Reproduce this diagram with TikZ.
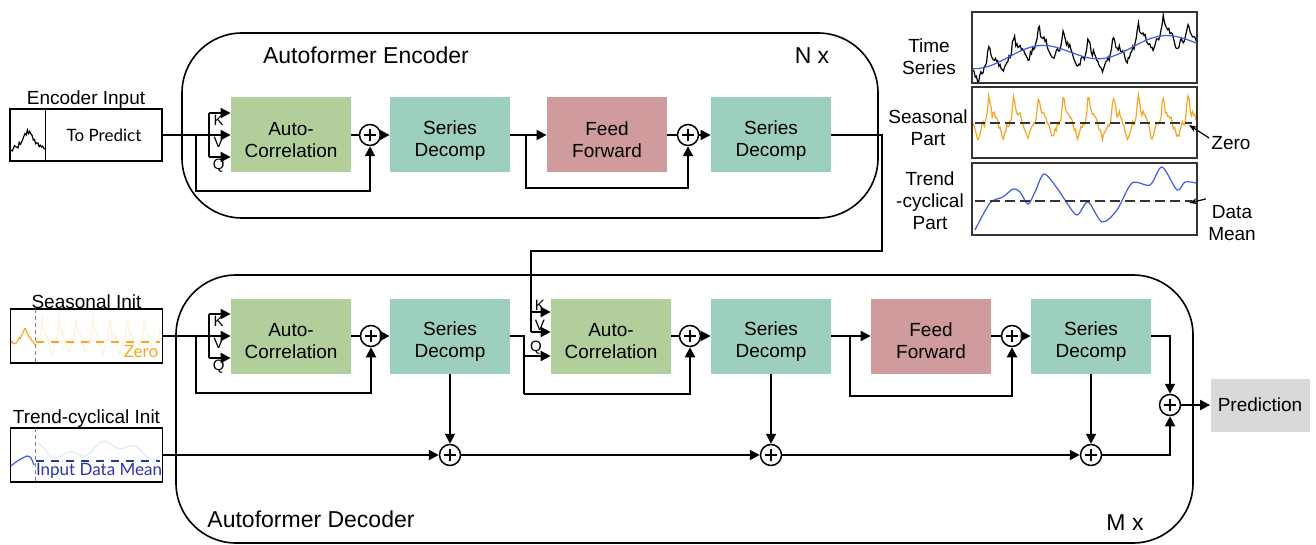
\documentclass[tikz,border=0pt]{standalone}
\usepackage{fontspec}
\setmainfont{Liberation Sans}
\newfontfamily\plotfont{Lato}
\usetikzlibrary{arrows.meta,positioning,calc}

\definecolor{acgreen}{HTML}{B2CF9B}
\definecolor{sdteal}{HTML}{9CCFC0}
\definecolor{ffred}{HTML}{D09B9D}
\definecolor{predgray}{HTML}{D9D9D9}
\definecolor{seasorange}{HTML}{F6A623}
\definecolor{trendblue}{HTML}{3D5CE6}
\definecolor{meanblue}{HTML}{2A35A8}

\tikzset{
  block/.style={minimum width=60pt, minimum height=37.5pt, inner sep=0pt, align=center, font=\fontsize{9.5}{11}\selectfont,
    execute at begin node={\rule{0pt}{23pt}}},
  sumnode/.style={circle, draw, line width=0.75pt, minimum size=10.5pt, inner sep=0pt, fill=white,
    path picture={\draw[line width=0.6pt] ([xshift=-3.2pt]path picture bounding box.center) -- ([xshift=3.2pt]path picture bounding box.center)
      ([yshift=-3.2pt]path picture bounding box.center) -- ([yshift=3.2pt]path picture bounding box.center);}},
  wire/.style={line width=1pt},
  arr/.style={wire, -{Triangle[length=5pt, width=5pt]}},
  outerframe/.style={line width=0.8pt, rounded corners=30pt},
  lbl/.style={font=\fontsize{9.5}{11}\selectfont, align=center, inner sep=1pt},
  kvq/.style={font=\fontsize{7.5}{8}\selectfont, inner sep=0.5pt},
  boxtitle/.style={font=\fontsize{11.5}{13}\selectfont},
  panel/.style={draw=black!80, line width=0.8pt},
  initbox/.style={draw, line width=0.8pt, minimum width=76pt, minimum height=27pt, inner sep=0pt},
  meanline/.style={line width=0.7pt, dash pattern=on 5pt off 2.5pt},
  cut/.style={gray, line width=0.5pt, dash pattern=on 2pt off 1.5pt},
  declare function={
    gs(\t)=exp(-min(\t*\t,30));
    sphase(\t,\p)=mod(\t+10*\p,\p)/\p;
    spk(\f)=1.1*gs((\f-0.24)/0.09)+0.45*gs((\f-0.45)/0.12)-0.55*gs((\f-0.8)/0.12)-0.1;
    trd(\x)=60-18*(\x-972)/225-9*cos(360*((\x-972)/225-0.3)/0.55);
  },
}

\begin{document}
\begin{tikzpicture}[x=0.5pt, y=-0.5pt]
\useasboundingbox (0,0) rectangle (1316,545);
\pgfmathsetseed{12}

% frames of the two stacks
\draw[outerframe] (182,33) rectangle (878,218);
\draw[outerframe] (176,275) rectangle (1193,543);
\node[boxtitle] (enctitle) at (366,55) {Autoformer Encoder};
\node[boxtitle] (encrep) at (812,56) {N x};
\node[boxtitle] (dectitle) at (311,519) {Autoformer Decoder};
\node[boxtitle] (decrep) at (1125,523) {M x};

% encoder
\node[block, fill=acgreen] (encac) at (291,135) {Auto-\\Correlation};
\node[sumnode] (encp1) at (370,135) {};
\node[block, fill=sdteal] (encsd1) at (450,135) {Series\\Decomp};
\node[block, fill=ffred] (encff) at (607,135) {Feed\\Forward};
\node[sumnode] (encp2) at (688,135) {};
\node[block, fill=sdteal] (encsd2) at (771,135) {Series\\Decomp};

\node[initbox, minimum height=26pt] (encin) at (86,135) {};
\node[lbl, above=-1.5pt of encin] (encinlbl) {Encoder Input};
\node[font=\plotfont\fontsize{8.5}{10}\selectfont] (topred) at (104,135) {To Predict};
\draw[line width=0.6pt] ([xshift=18pt]encin.north west) -- ([xshift=18pt]encin.south west);
\draw[line width=0.6pt] plot[domain=11:45, samples=30] (\x,{149-17*gs((\x-28)/8)+2.5*rand});

\coordinate (enck) at (209,113);
\coordinate (encv) at (209,135);
\coordinate (encq) at (209,157);
\coordinate (encsplit) at (196,135);
\coordinate (encres) at (196,191);
\draw[wire] (encin) -- (encv);
\draw[wire] (enck) -- (encq);
\draw[arr] (enck) -- (enck -| encac.west) node[kvq, pos=0.45, below] {K};
\draw[arr] (encv) -- (encv -| encac.west) node[kvq, pos=0.45, below] {V};
\draw[arr] (encq) -- (encq -| encac.west) node[kvq, pos=0.45, below] {Q};
\draw[arr] (encsplit) -- (encres) -| (encp1);
\draw[wire] (encac) -- (encp1);
\draw[arr] (encp1) -- (encsd1);
\draw[arr] (encsd1) -- (encff);
\coordinate (encsplit2) at (526,135);
\coordinate (encres2) at (526,188);
\draw[arr] (encsplit2) -- (encres2) -| (encp2);
\draw[wire] (encff) -- (encp2);
\draw[arr] (encp2) -- (encsd2);

% decoder
\node[block, fill=acgreen] (decac1) at (291,336) {Auto-\\Correlation};
\node[sumnode] (decp1) at (371,336) {};
\node[block, fill=sdteal] (decsd1) at (450,336) {Series\\Decomp};
\node[block, fill=acgreen] (decac2) at (611,336) {Auto-\\Correlation};
\node[sumnode] (decp2) at (690,336) {};
\node[block, fill=sdteal] (decsd2) at (771,336) {Series\\Decomp};
\node[block, fill=ffred] (decff) at (931,336) {Feed\\Forward};
\node[sumnode] (decp3) at (1012,336) {};
\node[block, fill=sdteal] (decsd3) at (1091,336) {Series\\Decomp};
\node[sumnode] (decp4) at (1170,405) {};
\node[sumnode] (decpt1) at (450,455) {};
\node[sumnode] (decpt2) at (771,455) {};
\node[sumnode] (decp5) at (1091,455) {};
\node[fill=predgray, minimum width=49.5pt, minimum height=26.5pt, inner sep=0pt, font=\fontsize{9.5}{11}\selectfont] (pred) at (1260,405) {Prediction};

% encoder output into the decoder cross correlation
\coordinate (encbend) at (882,251);
\coordinate (deck2) at (531,312);
\coordinate (decv2) at (531,332);
\draw[wire] (encsd2) -| (encbend) -| (decv2);
\draw[arr] (deck2) -- (deck2 -| decac2.west) node[kvq, pos=0.45, above] {K};
\draw[arr] (decv2) -- (decv2 -| decac2.west) node[kvq, pos=0.45, above] {V};

% seasonal init
\node[initbox] (seasin) at (86.5,336) {};
\node[lbl, above=-1.5pt of seasin] (seaslbl) {Seasonal Init};
\draw[cut] (35,309) -- (35,363);
\begin{scope}
  \clip (seasin.north west) rectangle (seasin.south east);
  \draw[seasorange, opacity=0.15, line width=0.6pt] plot[domain=36:160, samples=140] (\x,{340-20*spk(sphase(\x-38,17))+2*rand});
  \draw[seasorange, line width=0.6pt] plot[domain=11:35, samples=24] (\x,{343-13*gs((\x-25)/5)+2*rand});
\end{scope}
\draw[seasorange, meanline, dash pattern=on 4pt off 3.5pt] (36,342) -- (160,342);
\node[seasorange, font=\plotfont\fontsize{8.5}{10}\selectfont] (zeroinit) at (141,351) {Zero};

% trend-cyclical init
\node[initbox] (trendin) at (86.5,455) {};
\node[lbl, above=-1.5pt of trendin] (trendlbl) {Trend-cyclical Init};
\draw[cut] (35,428) -- (35,482);
\begin{scope}
  \clip (trendin.north west) rectangle (trendin.south east);
  \draw[trendblue, opacity=0.15, line width=0.6pt] plot[domain=36:160, samples=80, smooth] (\x,{450-6*sin(4*\x)-4*sin(11*\x+40)});
  \draw[trendblue, line width=0.6pt] plot[smooth] coordinates {(11,466) (16,462) (21,459) (27,456) (31,458) (34,465)};
\end{scope}
\draw[meanblue, meanline, dash pattern=on 4pt off 3.5pt] (36,461) -- (160,461);
\node[meanblue, font=\plotfont\fontsize{8.5}{10}\selectfont] (meaninit) at (99,471) {Input Data Mean};

% decoder connections
\coordinate (deck1) at (209,314);
\coordinate (decv1) at (209,336);
\coordinate (decq1) at (209,358);
\coordinate (decsplit1) at (196,336);
\coordinate (decres1) at (196,393);
\draw[wire] (seasin) -- (decv1);
\draw[wire] (deck1) -- (decq1);
\draw[arr] (deck1) -- (deck1 -| decac1.west) node[kvq, pos=0.45, below] {K};
\draw[arr] (decv1) -- (decv1 -| decac1.west) node[kvq, pos=0.45, below] {V};
\draw[arr] (decq1) -- (decq1 -| decac1.west) node[kvq, pos=0.45, below] {Q};
\draw[arr] (decsplit1) -- (decres1) -| (decp1);
\draw[wire] (decac1) -- (decp1);
\draw[arr] (decp1) -- (decsd1);

\coordinate (decsplit2) at (524,336);
\coordinate (decq2) at (524,356);
\coordinate (decres2) at (524,394);
\draw[wire] (decsd1) -- (decsplit2) -- (decres2);
\draw[arr] (decq2) -- (decq2 -| decac2.west) node[kvq, pos=0.45, above] {Q};
\draw[arr] (decres2) -| (decp2);
\draw[wire] (decac2) -- (decp2);
\draw[arr] (decp2) -- (decsd2);

\coordinate (decsplit3) at (850,336);
\coordinate (decres3) at (850,396);
\draw[arr] (decsd2) -- (decff);
\draw[arr] (decsplit3) -- (decres3) -| (decp3);
\draw[wire] (decff) -- (decp3);
\draw[arr] (decp3) -- (decsd3);

\draw[arr] (decsd1) -- (decpt1);
\draw[arr] (decsd2) -- (decpt2);
\draw[arr] (decsd3) -- (decp5);
\draw[arr] (trendin) -- (decpt1);
\draw[arr] (decpt1) -- (decpt2);
\draw[arr] (decpt2) -- (decp5);
\draw[arr] (decp5) -| (decp4);
\draw[arr] (decsd3) -| (decp4);
\draw[arr] (decp4) -- (pred);

% decomposition panels
\node[lbl] (tslbl) at (929,57) {Time\\Series};
\node[lbl] (seaslbl2) at (928,128) {Seasonal\\Part};
\node[lbl] (trendlbl2) at (930,201) {Trend\\-cyclical\\Part};

\begin{scope}
  \clip (972,12) rectangle (1197,83);
  \draw[line width=0.6pt] plot[domain=973:1197, samples=200] (\x,{trd(\x)-18*spk(sphase(\x-983,24.9))+3*rand});
  \draw[trendblue, line width=0.6pt] plot[domain=973:1197, samples=60, smooth] (\x,{trd(\x)});
\end{scope}
\draw[panel] (972,12) rectangle (1197,83);

\begin{scope}
  \clip (972,87) rectangle (1197,158);
  \draw[seasorange, line width=0.6pt] plot[domain=973:1197, samples=200] (\x,{122-24*spk(sphase(\x-983,24.9))+3*rand});
\end{scope}
\draw[black!80, meanline] (975,123) -- (1192,123);
\draw[panel] (972,87) rectangle (1197,158);

\draw[trendblue, line width=0.6pt] plot[smooth] coordinates {(975,230) (990,203) (1003,197) (1013,189) (1020,192) (1028,204) (1035,192) (1044,174) (1057,188) (1065,200) (1077,215) (1088,202) (1102,222) (1117,210) (1132,183) (1150,185) (1162,167) (1177,190) (1185,182) (1196,183)};
\draw[black!80, meanline] (975,201) -- (1192,201);
\draw[panel] (972,163) rectangle (1197,235);

\node[lbl] (zerolbl) at (1231,143) {Zero};
\coordinate (zeropt) at (1189,125);
\draw[line width=0.6pt, -{Stealth[length=4pt]}] ([yshift=2.5pt]zerolbl.west) -- (zeropt);
\node[lbl] (meanlbl) at (1232,223) {Data\\Mean};
\coordinate (meanpt) at (1189,203);
\draw[line width=0.6pt, -{Stealth[length=4pt]}] ([yshift=2pt]meanlbl.north west) -- (meanpt);
\end{tikzpicture}
\end{document}
